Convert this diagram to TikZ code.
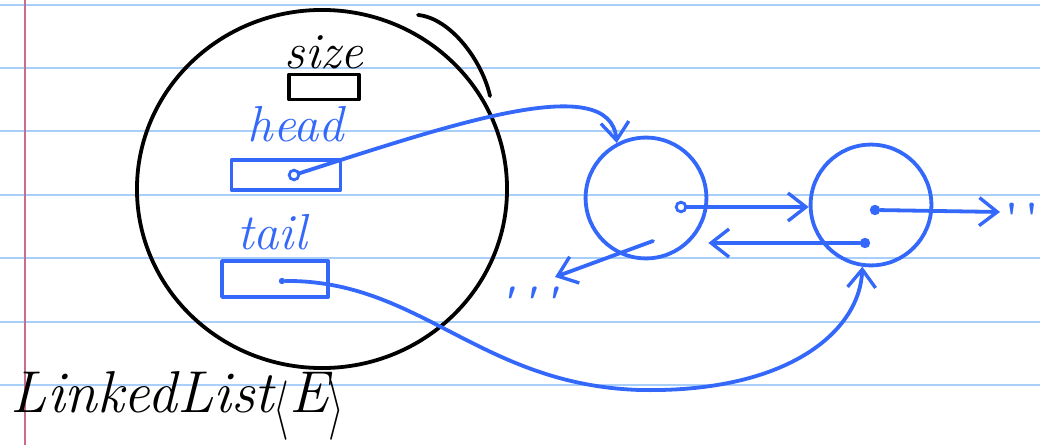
\documentclass[tikz,border=0pt]{standalone}
\usepackage{graphicx}
\usetikzlibrary{arrows.meta,positioning,shapes.geometric}
\definecolor{inkblue}{RGB}{52,104,250}
\definecolor{rulecol}{RGB}{168,206,250}
\definecolor{margincol}{RGB}{200,110,140}
\newcommand{\bigang}[1]{\raisebox{-0.22em}{\scalebox{1.15}[1.7]{$#1$}}}
\tikzset{
  ink/.style={line width=2.7pt, line cap=round, line join=round},
  obj/.style={ellipse, draw=black, ink, minimum width=9.25cm, minimum height=8.95cm, inner sep=0pt},
  listnode/.style={circle, draw=inkblue, ink, minimum size=3.02cm, inner sep=0pt},
  field/.style={rectangle, draw, ink, inner sep=0pt},
  ptr/.style={circle, draw=inkblue, line width=2pt, minimum size=0.24cm, inner sep=0pt},
  fptr/.style={circle, fill=inkblue, minimum size=0.26cm, inner sep=0pt},
  lab/.style={font=\fontsize{36}{36}\selectfont\itshape},
  marks/.style={text=inkblue, font=\fontsize{30}{30}\selectfont\bfseries, inner sep=0pt},
  arr/.style={ink, draw=inkblue, -{Straight Barb[length=4.5mm, width=7mm, line width=2.4pt]}}
}

\begin{document}
\begin{tikzpicture}[x=0.025cm,y=-0.025cm]

% ---------------- Paper ----------------
\fill[white] (0,0) rectangle (1040,445);
\useasboundingbox (0,0) rectangle (1040,445);
\foreach \y in {5,68,131,195,258,322,385}
  \draw[rulecol, line width=1.4pt] (0,\y) -- (1040,\y);
\draw[margincol, line width=1.4pt] (25,0) -- (25,445);

% ---------------- LinkedList object ----------------
\node[obj] (list) at (322,189) {};
\draw[ink] (418,15) .. controls (450,18) and (482,60) .. (490,96);

\node[lab] (sizelab) at (324,52) {size};
\node[field, minimum width=1.75cm, minimum height=0.62cm] (sizebox) at (324,87) {};

\node[lab, text=inkblue] (headlab) at (296,124) {head};
\node[field, draw=inkblue, minimum width=2.72cm, minimum height=0.75cm] (headbox) at (286,175) {};
\node[ptr] (headptr) at (294,175) {};

\node[lab, text=inkblue] (taillab) at (272,232) {tail};
\node[field, draw=inkblue, minimum width=2.65cm, minimum height=0.9cm] (tailbox) at (275,279) {};
\node[fptr, minimum size=0.16cm] (tailptr) at (282,281) {};

\node[lab, anchor=west, font=\fontsize{42}{42}\selectfont\itshape] (title) at (6,406)
  {LinkedList\bigang{\langle}E\bigang{\rangle}};

% ---------------- List nodes ----------------
\node[listnode] (n1) at (646,198) {};
\node[listnode] (n2) at (871,205) {};

\node[ptr] (n1next) at (681,207) {};
\node[fptr] (n2next) at (875,210) {};
\node[fptr] (n2prev) at (865,243) {};
\coordinate (n1prev) at (653,241);
\coordinate (n2end) at (1000,212);
\coordinate (n1end) at (555,277);

\node[marks] (more) at (1022,218) {\textquotesingle\,\textquotesingle};
\node[marks, font=\fontsize{30}{30}\selectfont\bfseries\itshape] (less) at (528,302) {\textquotesingle\,\textquotesingle\,\textquotesingle};

% ---------------- Pointers ----------------
\draw[arr] (headptr) .. controls (450,125) and (610,70) .. (n1.118);
\draw[arr] (tailptr) .. controls (420,280) and (480,385) .. (640,390)
  .. controls (790,393) and (860,330) .. (n2.262);
\draw[arr] (n1next) -- (n2.west |- n1next);
\draw[arr] (n2next) -- (n2end);
\draw[arr] (n2prev) -- (n1.east |- n2prev);
\draw[arr] (n1prev) -- (n1end);

\end{tikzpicture}
\end{document}
